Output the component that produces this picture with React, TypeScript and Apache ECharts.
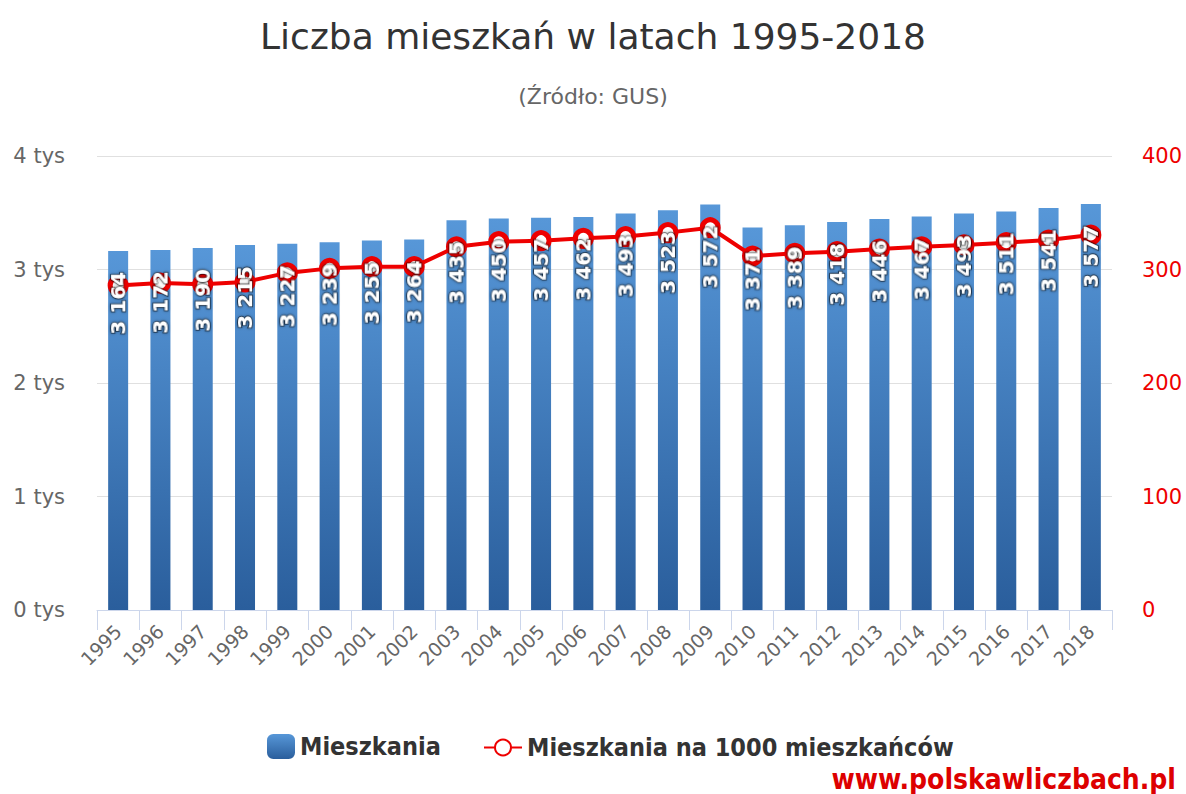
import React, { useEffect, useRef } from "react";
import * as echarts from "echarts";

const years = ["1995","1996","1997","1998","1999","2000","2001","2002","2003","2004","2005","2006","2007","2008","2009","2010","2011","2012","2013","2014","2015","2016","2017","2018"];
const dwellings = [3164,3172,3190,3215,3227,3239,3255,3264,3435,3450,3457,3462,3493,3523,3572,3371,3389,3418,3446,3467,3493,3511,3541,3577];
const per1000 = [286,288,287,289,297,301,302.5,302.5,320,324.5,325.4,327.5,329,332.5,336.8,311.9,314.3,315.7,318,320,321.6,323.6,326,330.4];
const leftTicks = [0, 1000, 2000, 3000, 4000];
const rightTicks = [0, 100, 200, 300, 400];

const FONT = "'DejaVu Sans Condensed', 'DejaVu Sans', sans-serif";
const PLAIN = "'DejaVu Sans', sans-serif";
const RED = "#ee0000";

const fmt = (v: number) => `${Math.floor(v / 1000)} ${String(v % 1000).padStart(3, "0")}`;

export default function App() {
  const ref = useRef<HTMLDivElement>(null);
  useEffect(() => {
    if (!ref.current) return;
    const chart = echarts.init(ref.current, undefined, { renderer: "svg" });
    const barGrad = new echarts.graphic.LinearGradient(0, 0, 0, 1, [
      { offset: 0, color: "#5797d8" },
      { offset: 1, color: "#2a5e9c" },
    ]);
    chart.setOption({
      animation: false,
      backgroundColor: "#ffffff",
      textStyle: { fontFamily: FONT },
      title: [
        { text: "Liczba mieszkań w latach 1995-2018", left: "center", top: 13, textStyle: { fontFamily: PLAIN, fontSize: 36, fontWeight: "normal", color: "#333333" } },
        { text: "(Źródło: GUS)", left: "center", top: 80, textStyle: { fontFamily: PLAIN, fontSize: 22, fontWeight: "normal", color: "#666666" } },
        { text: "www.polskawliczbach.pl", right: 5, top: 760, textStyle: { fontFamily: FONT, fontSize: 28, fontWeight: "bold", color: "#dd0000" } },
      ],
      legend: [
        { data: ["Mieszkania"], left: 262, top: 729, itemWidth: 28, itemHeight: 25, itemGap: 10, textStyle: { fontFamily: FONT, fontSize: 25, fontWeight: "bold", color: "#333333" } },
        { data: ["Mieszkania na 1000 mieszkańców"], left: 478, top: 730, itemWidth: 38, itemHeight: 20, textStyle: { fontFamily: FONT, fontSize: 25, fontWeight: "bold", color: "#333333" } },
      ],
      grid: { left: 97, right: 74, top: 156, bottom: 184, containLabel: false },
      xAxis: {
        type: "category",
        data: years,
        boundaryGap: true,
        axisLine: { lineStyle: { color: "#ccd6eb", width: 1 } },
        axisTick: { show: true, length: 20, alignWithLabel: false, lineStyle: { color: "#ccd6eb" } },
        axisLabel: { rotate: 45, fontSize: 19, color: "#666666", margin: 18, interval: 0, fontFamily: PLAIN },
      },
      yAxis: [
        {
          type: "value",
          min: leftTicks[0],
          max: leftTicks[leftTicks.length - 1],
          interval: 1000,
          axisLine: { show: false },
          axisTick: { show: false },
          splitLine: { lineStyle: { color: "#e0e0e0" } },
          axisLabel: { fontSize: 21, color: "#666666", margin: 32, formatter: (v: number) => `${v / 1000} tys`, fontFamily: PLAIN },
        },
        {
          type: "value",
          min: rightTicks[0],
          max: rightTicks[rightTicks.length - 1],
          interval: 100,
          position: "right",
          axisLine: { show: false },
          axisTick: { show: false },
          splitLine: { show: false },
          axisLabel: { fontSize: 21, color: RED, margin: 30, fontFamily: PLAIN },
        },
      ],
      series: [
        {
          name: "Mieszkania",
          type: "bar",
          data: dwellings,
          barWidth: 20,
          z: 1,
          itemStyle: { color: barGrad },
        },
        {
          name: "Mieszkania na 1000 mieszkańców",
          type: "line",
          yAxisIndex: 1,
          data: per1000,
          z: 3,
          symbol: "circle",
          symbolSize: 16,
          lineStyle: { color: RED, width: 4 },
          itemStyle: { color: "#ffffff", borderColor: RED, borderWidth: 5 },
        },
        {
          name: "labels",
          type: "bar",
          data: dwellings,
          barWidth: 20,
          barGap: "-100%",
          z: 5,
          itemStyle: { color: "rgba(0,0,0,0)" },
          silent: true,
          label: {
            show: true,
            position: "insideTop",
            rotate: 90,
            align: "right",
            verticalAlign: "middle",
            distance: 21,
            fontFamily: PLAIN,
            fontSize: 20,
            fontWeight: "bold",
            color: "#ffffff",
            textBorderColor: "rgba(0,0,0,0.5)",
            textBorderWidth: 2,
            textShadowColor: "rgba(0,0,0,0.5)",
            textShadowBlur: 3,
            formatter: (p: any) => fmt(p.value),
          },
        },
      ],
    });
    return () => chart.dispose();
  }, []);
  return <div ref={ref} style={{ position: "absolute", left: 0, top: 0, width: 1186, height: 794 }} />;
}
